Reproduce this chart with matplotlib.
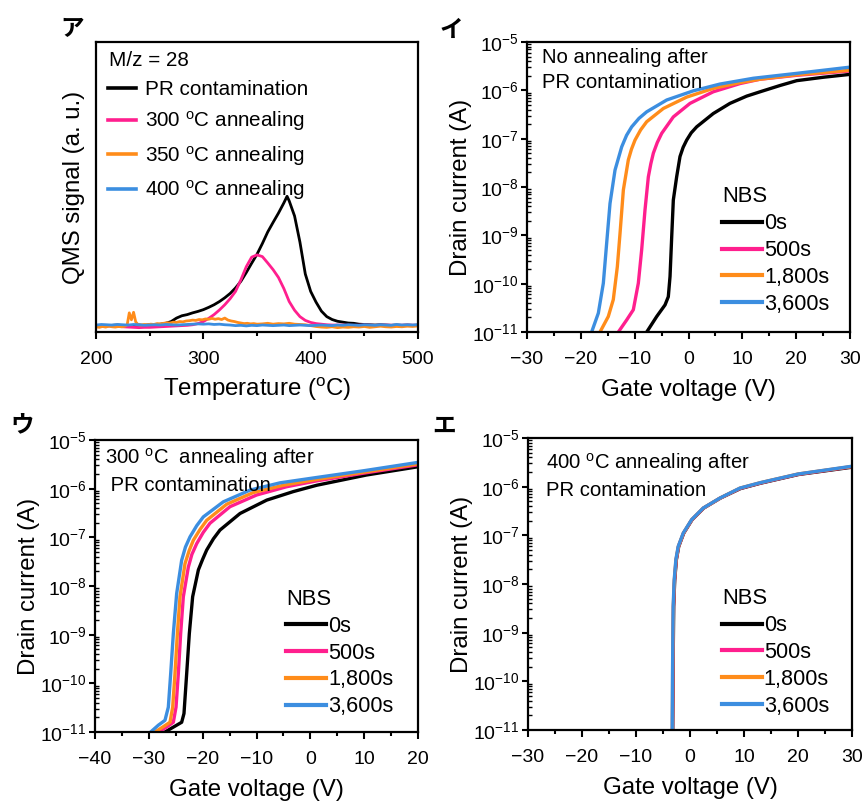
import matplotlib
matplotlib.use("Agg")
import matplotlib.pyplot as plt
from matplotlib.ticker import MultipleLocator, LogLocator, NullFormatter
import numpy as np

plt.rcParams['font.family'] = ['Liberation Sans', 'DejaVu Sans']
plt.rcParams['mathtext.fontset'] = 'custom'
plt.rcParams['mathtext.rm'] = 'Liberation Sans'
plt.rcParams['mathtext.it'] = 'Liberation Sans'
plt.rcParams['mathtext.default'] = 'regular'

# ---------------- Panel ア : QMS (M/z = 28) ----------------
T_black = [200, 205, 210, 215, 220, 225, 230, 235, 240, 245, 250, 255, 260, 265, 270, 275, 280, 285, 290, 295,
           300, 305, 310, 315, 320, 325, 330, 335, 340, 345, 350, 355, 360, 365, 370, 375, 378, 380, 385, 390,
           395, 400, 405, 410, 415, 420, 425, 430, 435, 440, 445, 450, 455, 460, 465, 470, 475, 480, 485, 490,
           495, 500]
S_black = [.022, .023, .021, .023, .024, .022, .023, .022, .024, .023, .025, .024, .027, .030, .036, .048, .056, .060, .066, .071,
           .077, .085, .094, .105, .118, .133, .152, .175, .205, .237, .268, .305, .345, .378, .410, .445, .468, .452, .400, .310,
           .200, .140, .103, .072, .053, .043, .037, .034, .031, .030, .027, .026, .025, .024, .025, .024, .023, .024, .023, .024,
           .023, .024]

T_pink = [200, 205, 210, 215, 220, 225, 230, 235, 240, 245, 250, 255, 260, 265, 270, 275, 280, 285, 290, 295,
          300, 305, 310, 315, 320, 325, 330, 335, 340, 345, 350, 355, 360, 365, 370, 375, 380, 385, 390, 395,
          400, 405, 410, 415, 420, 430, 440, 450, 460, 470, 480, 490, 500]
S_pink = [.020, .019, .021, .020, .019, .018, .017, .016, .015, .016, .016, .017, .018, .019, .020, .021, .022, .023, .025, .029,
          .036, .047, .060, .076, .094, .115, .140, .180, .225, .258, .266, .260, .238, .215, .188, .150, .105, .075, .053, .040,
          .033, .029, .027, .025, .024, .024, .023, .024, .023, .024, .023, .024, .023]

T_orange = [200, 203, 206, 209, 212, 215, 218, 221, 224, 227, 229, 231, 233, 235, 237, 239, 242, 245, 248, 251,
            254, 257, 260, 263, 266, 269, 272, 275, 278, 281, 284, 287, 290, 293, 296, 299, 302, 305, 308, 311,
            314, 317, 320, 323, 326, 329, 332, 335, 338, 341, 344, 347, 350, 355, 360, 365, 370, 375, 380, 385,
            390, 395, 400, 405, 410, 415, 420, 425, 430, 435, 440, 445, 450, 455, 460, 465, 470, 475, 480, 485,
            490, 495, 500]
S_orange = [.018, .016, .019, .017, .020, .018, .017, .019, .018, .020, .024, .066, .042, .068, .035, .026, .024, .026, .025, .027,
            .026, .029, .028, .030, .032, .031, .034, .033, .036, .035, .038, .039, .041, .040, .043, .042, .045, .044, .047, .044,
            .046, .043, .048, .041, .038, .036, .033, .031, .029, .030, .028, .029, .027, .028, .030, .027, .029, .028, .030, .027,
            .026, .025, .022, .019, .017, .016, .018, .015, .017, .016, .018, .017, .019, .016, .018, .020, .018, .017, .019, .018,
            .020, .019, .021]

T_blue = [200, 205, 210, 215, 220, 225, 230, 235, 240, 245, 250, 255, 260, 265, 270, 275, 280, 285, 290, 295,
          300, 305, 310, 315, 320, 325, 330, 335, 340, 345, 350, 355, 360, 365, 370, 375, 380, 385, 390, 395,
          400, 405, 410, 415, 420, 425, 430, 435, 440, 445, 450, 455, 460, 465, 470, 475, 480, 485, 490, 495, 500]
S_blue = [.024, .026, .025, .024, .026, .025, .024, .026, .025, .023, .024, .025, .024, .026, .025, .024, .025, .026, .027, .028,
          .027, .028, .026, .027, .025, .024, .022, .023, .021, .023, .022, .024, .023, .022, .023, .024, .022, .023, .024, .023,
          .022, .023, .024, .023, .022, .024, .023, .025, .024, .023, .025, .024, .023, .025, .024, .023, .026, .024, .025, .024, .025]

qms_labels = ["PR contamination", "300 $^{\\rm o}$C annealing", "350 $^{\\rm o}$C annealing", "400 $^{\\rm o}$C annealing"]

# ---------------- Transfer curves (log10 of drain current) ----------------
nbs_labels = ["0s", "500s", "1,800s", "3,600s"]

# Panel イ : no annealing after PR contamination
V_i0 = [-7.76, -5.91, -4.36, -3.75, -3.43, -3.12, -2.82, -2.2, -1.58, -1.0, -0.34, 0.5, 1.52, 4.6, 7.7, 10.8, 13.3, 17.0, 20.1, 25.0, 30.0]
L_i0 = [-11.0, -10.68, -10.44, -10.27, -9.85, -9.03, -8.27, -7.79, -7.37, -7.18, -7.03, -6.88, -6.755, -6.48, -6.27, -6.12, -6.03, -5.90, -5.80, -5.73, -5.67]
V_i1 = [-13.03, -11.48, -10.25, -9.32, -8.7, -8.08, -7.46, -7.0, -6.53, -5.8, -4.98, -2.82, 0.28, 4.6, 9.57, 13.3, 20.0, 30.0]
L_i1 = [-11.0, -10.75, -10.54, -9.99, -9.30, -8.475, -7.79, -7.52, -7.30, -7.08, -6.89, -6.55, -6.27, -6.03, -5.86, -5.77, -5.69, -5.60]
V_i2 = [-16.44, -14.9, -13.97, -13.22, -12.72, -12.1, -11.18, -10.6, -9.94, -8.9, -7.77, -4.67, -0.34, 4.6, 9.57, 13.3, 20.0, 30.0]
L_i2 = [-11.0, -10.68, -10.33, -9.65, -8.96, -8.06, -7.44, -7.22, -7.03, -6.82, -6.65, -6.375, -6.14, -5.96, -5.84, -5.77, -5.68, -5.585]
V_i3 = [-17.99, -16.75, -15.82, -15.2, -14.58, -13.65, -12.41, -11.5, -10.55, -9.2, -7.77, -4.05, 0.9, 5.85, 12.05, 20.0, 30.0]
L_i3 = [-11.0, -10.61, -9.99, -9.16, -8.34, -7.65, -7.17, -6.93, -6.755, -6.58, -6.445, -6.20, -6.01, -5.87, -5.75, -5.65, -5.52]

# Panel ウ : 300 oC annealing after PR contamination
V_u0 = [-27.0, -25.45, -23.9, -23.47, -22.97, -22.48, -21.86, -20.8, -20.0, -19.25, -18.0, -16.78, -13.06, -8.1, -3.16, 1.18, 10.4, 20.0]
L_u0 = [-11.0, -10.9, -10.80, -10.62, -9.80, -8.98, -8.22, -7.67, -7.45, -7.26, -7.03, -6.85, -6.51, -6.235, -6.06, -5.93, -5.72, -5.55]
V_u1 = [-28.23, -26.7, -25.45, -24.95, -24.52, -24.09, -23.59, -22.66, -22.0, -21.11, -19.9, -18.64, -14.92, -9.97, -4.4, 1.18, 10.0, 20.0]
L_u1 = [-11.0, -10.9, -10.8, -10.49, -9.80, -8.98, -8.22, -7.61, -7.35, -7.13, -6.90, -6.71, -6.37, -6.13, -5.96, -5.84, -5.68, -5.51]
V_u2 = [-28.85, -27.3, -26.07, -25.57, -25.14, -24.7, -24.21, -23.28, -22.5, -21.73, -20.5, -19.25, -15.54, -10.6, -5.02, 1.18, 10.0, 20.0]
L_u2 = [-11.0, -10.89, -10.8, -10.49, -9.80, -8.98, -8.22, -7.54, -7.27, -7.06, -6.84, -6.65, -6.32, -6.08, -5.93, -5.81, -5.66, -5.49]
V_u3 = [-29.66, -28.23, -27.0, -26.38, -25.94, -25.45, -24.83, -23.9, -23.2, -22.35, -21.1, -19.88, -16.16, -11.21, -5.63, 1.18, 10.0, 20.0]
L_u3 = [-11.0, -10.86, -10.76, -10.49, -9.80, -8.98, -8.155, -7.47, -7.20, -6.99, -6.76, -6.58, -6.27, -6.03, -5.88, -5.77, -5.63, -5.46]

# Panel エ : 400 oC annealing after PR contamination
V_e0 = [-3.2, -3.14, -3.02, -2.83, -2.52, -2.09, -1.16, 0.38, 2.54, 5.63, 9.33, 13.03, 20.1, 30.0]
L_e0 = [-11.0, -9.84, -8.46, -7.92, -7.50, -7.23, -6.955, -6.68, -6.44, -6.235, -6.04, -5.93, -5.75, -5.60]
V_e1 = [-3.24, -3.18, -3.06, -2.87, -2.56, -2.13, -1.2, 0.34, 2.5, 5.59, 9.29, 12.99, 20.05, 30.0]
L_e1 = [-11.0, -9.84, -8.46, -7.92, -7.50, -7.23, -6.955, -6.68, -6.44, -6.235, -6.035, -5.925, -5.745, -5.59]
V_e2 = [-3.27, -3.21, -3.09, -2.9, -2.59, -2.16, -1.23, 0.31, 2.47, 5.56, 9.26, 12.96, 20.02, 30.0]
L_e2 = [-11.0, -9.84, -8.46, -7.92, -7.50, -7.23, -6.955, -6.68, -6.44, -6.235, -6.03, -5.92, -5.74, -5.585]
V_e3 = [-3.3, -3.24, -3.12, -2.93, -2.62, -2.19, -1.26, 0.28, 2.44, 5.53, 9.23, 12.93, 20.0, 30.0]
L_e3 = [-11.0, -9.84, -8.46, -7.92, -7.50, -7.23, -6.955, -6.68, -6.44, -6.235, -6.03, -5.92, -5.74, -5.58]

colors = ['#000000', '#FF1F8E', '#FF8C1A', '#3C8EE0']

FS_TICK = 14
FS_LAB = 17.3
FS_TXT = 14.6
XPAD = 9.0

fig = plt.figure(figsize=(8.65, 8.01), dpi=100)

def style_axis(ax):
    for s in ax.spines.values():
        s.set_linewidth(1.6)

# ---- ア ----
axA = fig.add_axes([96/865, 1-332/801, 322/865, 290/801])
for T, S, c, lab in zip([T_black, T_pink, T_orange, T_blue], [S_black, S_pink, S_orange, S_blue], colors, qms_labels):
    axA.plot(T, S, color=c, lw=2.0, label=lab)
axA.set_xlim(200, 500)
axA.set_ylim(0, 1)
axA.set_yticks([])
axA.xaxis.set_major_locator(MultipleLocator(100))
axA.xaxis.set_minor_locator(MultipleLocator(50))
axA.tick_params(axis='x', which='major', direction='out', length=5, width=1.5, labelsize=FS_TICK, pad=XPAD)
axA.tick_params(axis='x', which='minor', direction='out', length=3, width=1.5)
style_axis(axA)
axA.set_xlabel("Temperature ($^{\\rm o}$C)", fontsize=FS_LAB, labelpad=5)
axA.set_ylabel("QMS signal (a. u.)", fontsize=FS_LAB, labelpad=8)
axA.text(0.04, 0.97, "M/z = 28", transform=axA.transAxes, fontsize=FS_TXT + 0.3, va='top', ha='left')
leg = axA.legend(loc='upper left', bbox_to_anchor=(0.012, 0.897), frameon=False, fontsize=FS_TXT + 0.3,
                 handlelength=1.35, handletextpad=0.42, labelspacing=0.5, borderaxespad=0.0)
for h in leg.get_lines():
    h.set_linewidth(2.6)

# ---- transfer panels ----
def transfer(ax, Vs, Ls, xlim, text, tx, ty, lx, ly):
    for V, L, c, lab in zip(Vs, Ls, colors, nbs_labels):
        ax.plot(V, np.power(10.0, L), color=c, lw=2.4, label=lab)
    ax.set_yscale('log')
    ax.set_ylim(1e-11, 1e-5)
    ax.set_xlim(*xlim)
    ax.xaxis.set_major_locator(MultipleLocator(10))
    ax.xaxis.set_minor_locator(MultipleLocator(5))
    ax.yaxis.set_major_locator(LogLocator(base=10, numticks=10))
    ax.yaxis.set_minor_locator(LogLocator(base=10, subs=np.arange(2, 10), numticks=20))
    ax.yaxis.set_minor_formatter(NullFormatter())
    ax.tick_params(axis='x', which='major', direction='out', length=5, width=1.5, labelsize=FS_TICK, pad=XPAD)
    ax.tick_params(axis='x', which='minor', direction='out', length=3, width=1.5)
    ax.tick_params(axis='y', which='major', direction='out', length=4, width=1.5, labelsize=FS_TICK, pad=2)
    ax.tick_params(axis='y', which='minor', direction='in', length=3, width=1.0)
    style_axis(ax)
    ax.set_xlabel("Gate voltage (V)", fontsize=FS_LAB, labelpad=7.5)
    ax.set_ylabel("Drain current (A)", fontsize=FS_LAB, labelpad=0)
    ax.text(tx, ty, text, transform=ax.transAxes, fontsize=FS_TXT, va='top', ha='left',
            linespacing=1.42)
    lg = ax.legend(loc='upper left', bbox_to_anchor=(lx, ly), frameon=False, fontsize=15.6,
                   title="NBS", title_fontsize=15.8, handlelength=1.85, handletextpad=0.08,
                   labelspacing=0.27, borderaxespad=0.0, borderpad=0.4)
    lg._legend_box.align = 'left'
    for h in lg.get_lines():
        h.set_linewidth(3.0)

axI = fig.add_axes([527/865, 1-332/801, 323/865, 290/801])
transfer(axI, [V_i0, V_i1, V_i2, V_i3], [L_i0, L_i1, L_i2, L_i3], (-30, 30),
         "No annealing after\nPR contamination", 0.046, 0.98, 0.578, 0.532)

axU = fig.add_axes([95/865, 1-732/801, 323/865, 292/801])
transfer(axU, [V_u0, V_u1, V_u2, V_u3], [L_u0, L_u1, L_u2, L_u3], (-40, 20),
         "300 $^{\\rm o}$C  annealing after\n PR contamination", 0.03, 0.98, 0.565, 0.52)

axE = fig.add_axes([528/865, 1-730/801, 324/865, 292/801])
transfer(axE, [V_e0, V_e1, V_e2, V_e3], [L_e0, L_e1, L_e2, L_e3], (-30, 30),
         "400 $^{\\rm o}$C annealing after\nPR contamination", 0.055, 0.955, 0.572, 0.515)

# panel letters
jp = ['Noto Sans CJK JP', 'DejaVu Sans']
fig.text(60/865, 1-29/801, "ア", family=jp, fontsize=17, fontweight='bold', va='center', ha='left')
fig.text(440/865, 1-30/801, "イ", family=jp, fontsize=17, fontweight='bold', va='center', ha='left')
fig.text(10/865, 1-425/801, "ウ", family=jp, fontsize=17, fontweight='bold', va='center', ha='left')
fig.text(432/865, 1-426/801, "エ", family=jp, fontsize=17, fontweight='bold', va='center', ha='left')

fig.savefig("out.png", dpi=100)
